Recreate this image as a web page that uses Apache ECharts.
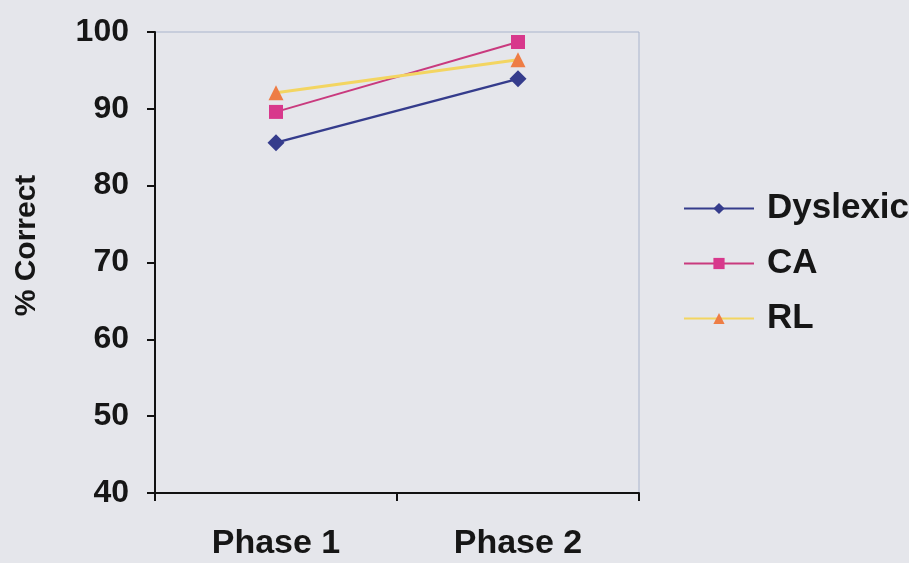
<!DOCTYPE html>
<html>
<head>
<meta charset="utf-8">
<script src="https://cdn.jsdelivr.net/npm/echarts@6/dist/echarts.min.js"></script>
<style>
  html, body { margin: 0; padding: 0; background: #e5e6eb; }
  #chart { width: 909px; height: 563px; }
</style>
</head>
<body>
<div id="chart"></div>
<script>
// Categories and per-group percentages
const phases = ['Phase 1', 'Phase 2'];
const dyslexic = [85.6, 93.9];
const ca = [89.6, 98.7];
const rl = [92.1, 96.4];
const yTicks = [40, 50, 60, 70, 80, 90, 100];

const font = '"Liberation Sans", Arial, sans-serif';
const ink = '#161616';
const chart = echarts.init(document.getElementById('chart'));

chart.setOption({
  backgroundColor: '#e5e6eb',
  animation: false,
  grid: {
    left: 155, right: 270, top: 32, bottom: 70,
    show: true, borderColor: '#a9b4cc', borderWidth: 1, backgroundColor: 'transparent'
  },
  legend: {
    orient: 'vertical',
    left: 678, top: 186,
    itemWidth: 70, itemHeight: 14, itemGap: 20,
    textStyle: { fontFamily: font, fontWeight: 'bold', fontSize: 35, color: ink, padding: [0, 0, 0, 8] },
    data: ['Dyslexic', 'CA', 'RL']
  },
  xAxis: {
    type: 'category',
    data: phases,
    boundaryGap: true,
    axisLine: { lineStyle: { color: '#111', width: 2 } },
    axisTick: { show: true, length: 8, lineStyle: { color: '#111', width: 2 } },
    axisLabel: { fontFamily: font, fontWeight: 'bold', fontSize: 34, color: ink, margin: 34 }
  },
  yAxis: {
    type: 'value',
    min: yTicks[0], max: yTicks[yTicks.length - 1], interval: 10,
    name: '% Correct',
    nameLocation: 'middle',
    nameGap: 113,
    nameTextStyle: { fontFamily: font, fontWeight: 'bold', fontSize: 30, color: ink, padding: [0, 0, 0, 34] },
    splitLine: { show: false },
    axisLine: { show: true, lineStyle: { color: '#111', width: 2 } },
    axisTick: { show: true, length: 8, lineStyle: { color: '#111', width: 2 } },
    axisLabel: { fontFamily: font, fontWeight: 'bold', fontSize: 32, color: ink, margin: 26 }
  },
  series: [
    {
      name: 'Dyslexic', type: 'line', data: dyslexic,
      symbol: 'diamond', symbolSize: 17,
      itemStyle: { color: '#353c8c' },
      lineStyle: { color: '#353c8c', width: 2.5 }
    },
    {
      name: 'CA', type: 'line', data: ca,
      symbol: 'rect', symbolSize: 14,
      itemStyle: { color: '#d8388c' },
      lineStyle: { color: '#c93a7e', width: 2 }
    },
    {
      name: 'RL', type: 'line', data: rl,
      symbol: 'triangle', symbolSize: 15,
      itemStyle: { color: '#ee7d45' },
      lineStyle: { color: '#f3d561', width: 3 }
    }
  ]
});
</script>
</body>
</html>
